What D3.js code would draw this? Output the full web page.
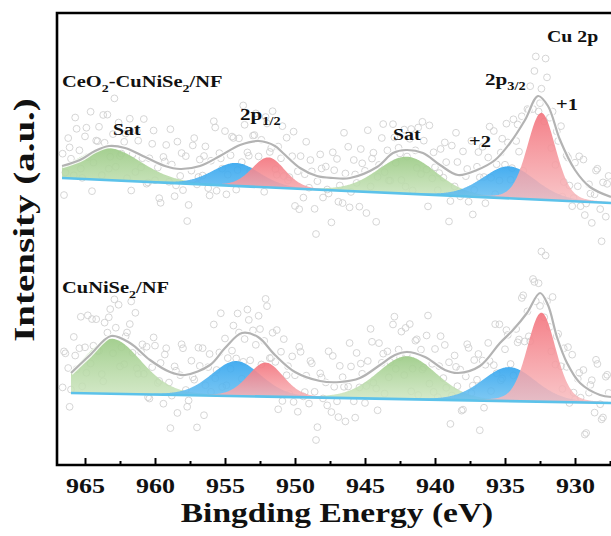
<!DOCTYPE html>
<html>
<head>
<meta charset="utf-8">
<script src="https://cdn.jsdelivr.net/npm/d3@7"></script>
<style>
  html, body { margin: 0; padding: 0; background: #fff; }
  svg { display: block; }
  text { font-family: "Liberation Serif", "Times New Roman", serif; font-weight: bold; fill: #111; }
</style>
</head>
<body>
<svg id="chart" width="611" height="536"></svg>
<script>
// ---- axis ----
const majorTicks = [965, 960, 955, 950, 945, 940, 935, 930];
const minorTicks = [962.5, 957.5, 952.5, 947.5, 942.5, 937.5, 932.5, 927.5];

// ---- CeO2-CuNiSe2/NF (upper trace) ----
const upperBg = [[966.64, 287], [927.43, 262]];              // linear background ends
const upperPeaks = [                                          // [center eV, height, FWHM eV, type]
  [963.3, 32, 5.5, "sat"],
  [954.2, 23, 4.0, "cu2"],
  [951.9, 30, 2.8, "cu1"],
  [942.0, 37, 5.0, "sat"],
  [934.7, 32, 4.5, "cu2"],
  [932.4, 87, 2.4, "cu1"]
];
const upperEnvE = [966.64,965.36,964.29,963.29,962.14,960.71,959.29,958.21,956.79,955.36,953.93,952.57,951.43,950.86,949.64,948.43,947.29,946.07,944.14,943.0,942.07,940.86,939.64,938.36,937.0,935.71,934.64,933.57,932.64,931.93,931.07,930.0,928.93,927.43];
const upperEnvI = [299,305,314,319,317,308,299,296,299,309,320,324,319,312,297,289,287,287,298,312,315,312,300,290,295,305,322,345,369,359,325,295,278,268];
// residual counts (raw minus fit), first scan and interleaved second scan
const upperResid = [
  12,-8,25,3,-15,30,7,-22,18,-4,40,-12,9,22,-27,5,33,-9,14,-18,
  27,-3,10,-25,36,2,-14,19,-6,44,-19,8,24,-11,3,-31,16,29,-7,11,
  -20,35,1,-13,21,-28,6,38,-9,15,-2,26,-17,9,47,-24,12,-5,31,-14,
  4,20,-33,17,-8,28,-1,-21,13,34,-10,6,-46,23,-4,39,-16,10,2,-12,
  30,-6,18,-29,8,25,-15,42,-3,14,-23,5,32,-11,20,-7,-36,16,27,0,
  -18,11,37,-9,22,-2,-27,15,6,45,-13,19,-52,3,28,-8,12,-20,35,-5,
  9,-24,26,-1,17,-34,7,31,-14,21,-6,40,-11,2,-19,24,-3,14,-44,33,
  -7,18,-16,29,4,-22,38,-12,10,-2,27,-31,13,-9,36,1,-17,23,-5,15,
  -25,32,6,-10,19,-58,11,26,-4,43,-15,8,-21,30,-1,16,-26,9,34,-13,
  21,-3,-19,28,7,-11,37,-6,14,-24,5,31,-9,18,-16,25
];
const upperResid2 = [
  -30,15,42,-12,26,-40,8,33,-21,50,-6,19,-35,28,4,-17,38,-27,12,46,
  -9,24,-44,31,-2,17,-25,40,6,-33,22,-14,48,-5,13,-38,29,1,-20,36,
  -11,44,-29,9,25,-48,18,-3,34,-16,52,-24,7,30,-37,14,-8,41,-19,21,
  3,-31,27,-10,39,-42,16,-1,33,-23,47,-13,11,-36,24,-4,43,-28,10,35,
  -15,20,-39,6,31,-7,45,-26,13,-32,22,-9,38,-18,5,29,-41,17
];

// ---- CuNiSe2/NF (lower trace) ----
const lowerBg = [[966.0, 72], [927.43, 62]];
const lowerPeaks = [
  [963.1, 55, 5.0, "sat"],
  [954.2, 35, 4.2, "cu2"],
  [952.1, 34, 3.0, "cu1"],
  [942.0, 43, 5.0, "sat"],
  [934.7, 34, 4.5, "cu2"],
  [932.4, 89, 2.4, "cu1"]
];
const lowerEnvE = [966.0,964.64,963.14,961.79,960.36,958.93,957.86,956.07,955.0,953.79,952.64,951.43,950.0,948.21,946.79,945.36,943.93,942.86,942.0,940.71,939.29,938.36,936.79,935.36,934.43,933.43,932.5,931.93,931.29,930.57,929.64,928.21,927.43];
const lowerEnvI = [92,110,129,122,105,93,90,100,117,132,128,110,93,84,83,87,100,110,113,108,95,92,99,122,135,152,172,160,128,102,82,70,68];
const lowerResid = [
  -10,22,5,-19,31,-4,14,-27,9,38,-13,2,26,-8,-33,17,6,29,-15,11,
  35,-6,-21,13,24,-2,41,-17,8,-11,19,-30,4,28,-7,15,-24,33,0,-12,
  18,-28,10,37,-5,-16,23,3,-46,14,30,-9,7,-20,45,-3,12,-25,21,-1,
  -14,27,-8,16,-32,6,34,-18,11,-4,25,-23,2,39,-10,19,-6,-49,13,30,
  -2,-17,24,8,-26,36,-7,15,-12,29,1,-34,20,-5,11,42,-19,6,-9,26,
  14,-31,3,22,-14,33,-3,9,-22,18,48,-8,-16,27,5,-28,12,-1,35,-11,
  7,24,-20,1,31,-13,16,-37,10,-6,28,-18,4,21,-25,38,-2,-10,17,-15,
  26,-4,13,-27,6,34,-12,20,-1,-53,15,9,29,-21,3,-7,40,-16,11,23,
  -9,-24,18,2,37,-14,8,-30,25,-3,12,44,-18,5,-11,30,-26,16,-6,21,
  10,-20,33,-8,15,-2,27,-35,6,19,-13,36,-4,-17,24,8
];
const lowerResid2 = [
  25,-35,11,44,-18,30,-7,-41,21,39,-26,8,48,-13,17,-30,35,-4,26,-45,
  14,41,-22,6,33,-38,19,-10,50,-27,3,36,-16,23,-43,12,45,-8,28,-34,
  9,-20,40,-2,31,-47,16,-12,37,-25,4,46,-31,20,-6,34,-39,13,-15,42,
  -1,27,-36,18,-9,49,-23,7,32,-44,15,-28,38,-5,24,-33,10,43,-17,29,
  -40,2,36,-21,19,-11,47,-30,8,-24,33,-3,22,-37,14,40,-19,26
];
const scan1 = [966.6, 0.2];   // start energy and step of each acquisition grid
const scan2 = [966.5, 0.4];

// ---- labels ----
const upperName = [["CeO", 0], ["2", 1], ["-CuNiSe", 0], ["2", 1], ["/NF", 0]];
const lowerName = [["CuNiSe", 0], ["2", 1], ["/NF", 0]];

// ---------------------------------------------------------------
const svg = d3.select("#chart");
const plot = { left: 57, top: 13, bottom: 465, right: 645 };
const wide = 1.24;   // horizontal stretch of the lettering

const x = d3.scaleLinear().domain([967, 925]).range([plot.left, plot.right]);
const y = d3.scaleLinear().domain([0, 452]).range([plot.bottom, plot.top]);

const colors = {
  sat: ["#9ccb86", "#d2e8c5"],
  cu2: ["#35a6ef", "#6cc1f1"],
  cu1: ["#f3757e", "#f8bcbf"]
};

const defs = svg.append("defs");
defs.append("clipPath").attr("id", "plotClip")
  .append("rect").attr("x", plot.left + 1).attr("y", plot.top + 1)
  .attr("width", plot.right - plot.left).attr("height", plot.bottom - plot.top - 2);
Object.entries(colors).forEach(([k, c]) => {
  const g = defs.append("linearGradient").attr("id", "grad-" + k)
    .attr("x1", 0).attr("y1", 0).attr("x2", 0).attr("y2", 1);
  g.append("stop").attr("offset", "0%").attr("stop-color", c[0]).attr("stop-opacity", 0.92);
  g.append("stop").attr("offset", "100%").attr("stop-color", c[1]).attr("stop-opacity", 0.85);
});

// pseudo-Voigt line shape (20% Lorentzian)
function pv(E, c, h, w) {
  const t = 4 * ((E - c) / w) ** 2;
  return h * (0.2 / (1 + t) + 0.8 * Math.exp(-Math.LN2 * t));
}
function bgAt(bg, E) {
  const [[e0, i0], [e1, i1]] = bg;
  return i0 + (i1 - i0) * (E - e0) / (e1 - e0);
}

const g = svg.append("g").attr("clip-path", "url(#plotClip)");

function drawTrace(bg, peaks, envE, envI, resids) {
  const eHi = bg[0][0], eLo = bg[1][0];
  const grid = d3.range(eHi, eLo - 1e-6, -0.05);
  const fitAt = E => bgAt(bg, E) + d3.sum(peaks, p => pv(E, p[0], p[1], p[2]));

  // raw counts: fitted model plus residual
  const raw = resids.flatMap(([scan, res]) =>
    res.map((r, i) => { const E = scan[0] - scan[1] * i; return [E, fitAt(E) + r]; }));
  g.append("g").selectAll("circle").data(raw).join("circle")
    .attr("cx", d => x(d[0])).attr("cy", d => y(d[1])).attr("r", 3.4)
    .attr("fill", "none").attr("stroke", "#d0d0d0").attr("stroke-width", 0.9);

  // component fills, satellites first, then Cu2+, then Cu+
  const order = ["sat", "cu2", "cu1"];
  const sorted = peaks.slice().sort((a, b) => order.indexOf(a[3]) - order.indexOf(b[3]));
  sorted.forEach(p => {
    const area = d3.area()
      .x(E => x(E))
      .y0(E => y(bgAt(bg, E)))
      .y1(E => y(bgAt(bg, E) + pv(E, p[0], p[1], p[2])));
    g.append("path").datum(grid).attr("d", area).attr("fill", `url(#grad-${p[3]})`);
  });

  // background line
  g.append("path").datum(bg)
    .attr("d", d3.line().x(d => x(d[0])).y(d => y(d[1])))
    .attr("stroke", "#5cc2ea").attr("stroke-width", 2.6).attr("fill", "none");

  // fitted envelope
  const env = envE.map((E, i) => [E, envI[i]]);
  const envLine = d3.line().x(d => x(d[0])).y(d => y(d[1])).curve(d3.curveCatmullRom.alpha(0.5));
  g.append("path").datum(env).attr("d", envLine)
    .attr("stroke", "#fff").attr("stroke-width", 4.5).attr("fill", "none").attr("opacity", 0.85);
  g.append("path").datum(env).attr("d", envLine)
    .attr("stroke", "#b3b3b3").attr("stroke-width", 2.2).attr("fill", "none");
}

drawTrace(upperBg, upperPeaks, upperEnvE, upperEnvI, [[scan1, upperResid], [scan2, upperResid2]]);
drawTrace(lowerBg, lowerPeaks, lowerEnvE, lowerEnvI, [[scan1, lowerResid], [scan2, lowerResid2]]);

// ---- frame and axis ----
const frame = svg.append("g").attr("fill", "none").attr("stroke", "#000").attr("stroke-width", 2.6);
frame.append("path").attr("d", `M${plot.right},${plot.top}H${plot.left}V${plot.bottom}H${plot.right}`);

const axis = svg.append("g").attr("transform", `translate(0,${plot.bottom})`);
axis.call(d3.axisBottom(x).tickValues(majorTicks).tickFormat(d3.format("d"))
  .tickSizeInner(-7).tickSizeOuter(0).tickPadding(13));
axis.select(".domain").remove();
axis.selectAll(".tick line").attr("stroke", "#000").attr("stroke-width", 2);
axis.selectAll(".tick text").attr("font-size", 21).attr("font-family", "Liberation Serif")
  .attr("font-weight", "bold").attr("fill", "#111").attr("transform", `scale(${wide},1)`);
const minor = svg.append("g").attr("transform", `translate(0,${plot.bottom})`);
minor.call(d3.axisBottom(x).tickValues(minorTicks).tickFormat("").tickSizeInner(-4).tickSizeOuter(0));
minor.select(".domain").remove();
minor.selectAll(".tick line").attr("stroke", "#000").attr("stroke-width", 2);

svg.append("text").attr("transform", `translate(337,522) scale(${wide},1)`).attr("text-anchor", "middle")
  .attr("font-size", 27).text("Bingding Energy (eV)");
svg.append("text").attr("transform", "translate(34,220) rotate(-90) scale(1.3,1)").attr("text-anchor", "middle")
  .attr("font-size", 30).text("Intensity (a.u.)");

// ---- annotations ----
function label(xp, yp, parts, size) {
  const t = svg.append("text").attr("transform", `translate(${xp},${yp}) scale(${wide},1)`)
    .attr("font-size", size);
  let shifted = false;
  parts.forEach(([s, sub]) => {
    const ts = t.append("tspan").text(s);
    if (sub && !shifted) { ts.attr("font-size", size * 0.68).attr("dy", size * 0.28); shifted = true; }
    else if (!sub && shifted) { ts.attr("dy", -size * 0.28); shifted = false; }
  });
  return t;
}
label(62, 87, upperName, 16.5);
label(62, 293, lowerName, 16.5);
label(547, 42, [["Cu 2p", 0]], 16);
label(485, 85, [["2p", 0], ["3/2", 1]], 17);
label(240, 120, [["2p", 0], ["1/2", 1]], 17);
label(113, 135, [["Sat", 0]], 16);
label(393, 140, [["Sat", 0]], 16);
label(469, 147, [["+2", 0]], 16.5);
label(556, 110, [["+1", 0]], 16.5);
</script>
</body>
</html>
